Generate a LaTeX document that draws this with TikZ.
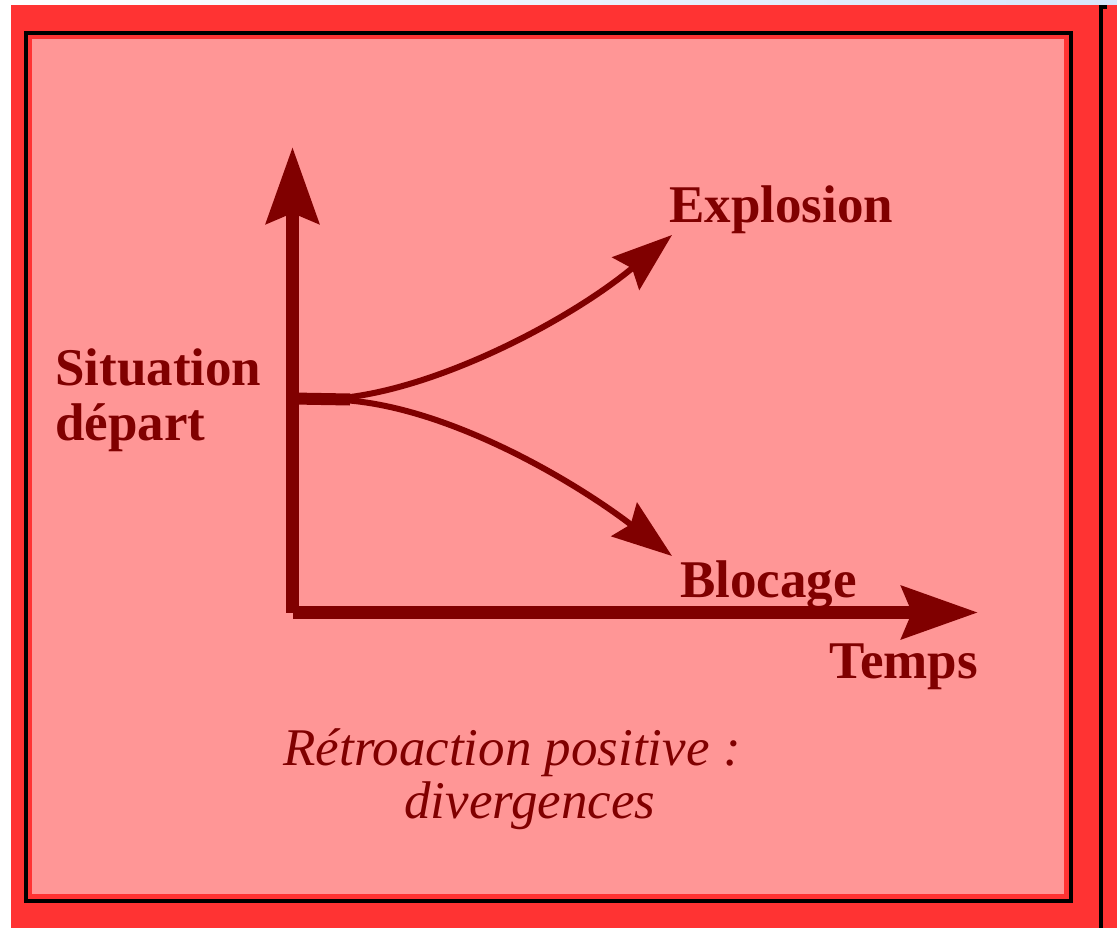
\documentclass[tikz,border=0pt]{standalone}
\usepackage{fontspec}
\setmainfont{Liberation Serif}
\usetikzlibrary{arrows.meta}
\definecolor{outerred}{RGB}{255,51,51}
\definecolor{pinkbg}{RGB}{255,150,150}
\definecolor{darkred}{RGB}{128,0,0}
\definecolor{topblue}{RGB}{215,230,250}
\tikzset{
  axisline/.style={draw=darkred, line width=13pt, line cap=butt,
    -{Stealth[length=76pt, width=52pt, inset=10pt]}},
  curveline/.style={draw=darkred, line width=6pt,
    -{Stealth[length=60pt, width=42pt, inset=8pt]}},
  boldlabel/.style={text=darkred, inner sep=0pt, font=\fontsize{53}{57}\selectfont\bfseries},
  captionlabel/.style={text=darkred, inner sep=0pt, font=\fontsize{53}{57}\selectfont\itshape},
}
\begin{document}
\begin{tikzpicture}[x=1pt, y=-1pt]
\useasboundingbox (0,0) rectangle (1117,928);
% backgrounds and frames
\fill[white] (0,0) rectangle (1117,928);
\shade[left color=white, right color=topblue] (0,0) rectangle (1117,5);
\fill[outerred] (11,5) rectangle (1117,928);
\fill[black] (1099,5) rectangle (1103,928);
\fill[black] (1103,5) rectangle (1107,9);
\draw[black, line width=4pt] (26,33) rectangle (1071,901);
\fill[pinkbg] (32,39) rectangle (1064,894);
% coordinates
\coordinate (O) at (292.5,612.5);
\coordinate (Ytop) at (292.5,147);
\coordinate (Xend) at (978,612.5);
\coordinate (S) at (292.5,398.5);
\coordinate (S2) at (350,399.5);
\coordinate (Etip) at (672,235);
\coordinate (Btip) at (672,556);
% axes
\draw[axisline] (O) -- (Ytop);
\draw[axisline] (O) -- (Xend);
% start bar
\draw[darkred, line width=12pt] (S) -- (S2);
% curves
\draw[curveline] (342,398) .. controls (440,388) and (570,320) .. (Etip);
\draw[curveline] (342,400) .. controls (445,406) and (570,478) .. (Btip);
% labels
\node[boldlabel, anchor=base west] (sit) at (55,385) {Situation};
\node[boldlabel, anchor=base west] (dep) at (55,440) {départ};
\node[boldlabel, anchor=base west] (expl) at (669,223) {Explosion};
\node[boldlabel, anchor=base west] (bloc) at (680,597) {Blocage};
\node[boldlabel, anchor=base east] (temps) at (978,678) {Temps};
\node[captionlabel, anchor=base] (cap1) at (512,765) {Rétroaction positive\ :};
\node[captionlabel, anchor=base] (cap2) at (530,818) {divergences};
\end{tikzpicture}
\end{document}
